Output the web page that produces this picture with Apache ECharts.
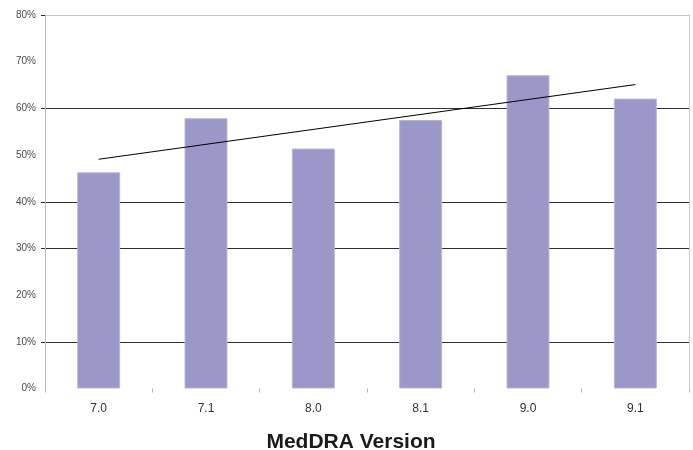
<!DOCTYPE html>
<html>
<head>
<meta charset="utf-8">
<script src="https://cdn.jsdelivr.net/npm/echarts@6/dist/echarts.min.js"></script>
<style>
  html, body { margin: 0; padding: 0; background: #ffffff; }
  #chart { width: 693px; height: 450px; }
</style>
</head>
<body>
<div id="chart"></div>
<script>
// MedDRA versions on the x axis
const versions = ['7.0', '7.1', '8.0', '8.1', '9.0', '9.1'];
// Share per version, in percent
const shares = [46.3, 57.9, 51.4, 57.5, 67.1, 62.1];
// Linear trend line: only its two end points are given, the line joins them
const trend = [49.1, null, null, null, null, 65.1];
// Y axis range and step, in percent
const yMin = 0;
const yMax = 80;
const yStep = 10;
// Values where a tick and gridline are drawn
const markedTicks = [10, 30, 40, 60, 80];

// One colour per gridline: dark inside the plot, light grey along the top edge
const gridColours = markedTicks.map(v => (v === yMax ? '#c9c5c5' : '#2e2e2e'));

const chart = echarts.init(document.getElementById('chart'), null, { renderer: 'canvas' });

chart.setOption({
  backgroundColor: '#ffffff',
  animation: false,
  grid: {
    left: 45, right: 4, top: 15, bottom: 61.5,
    containLabel: false,
    outerBoundsMode: 'none'
  },
  xAxis: {
    type: 'category',
    data: versions,
    axisLine: { show: false },
    axisTick: { show: true, length: 4, lineStyle: { color: '#b8b4b4', width: 1 } },
    axisLabel: {
      margin: 14,
      color: '#333333',
      fontFamily: 'Liberation Sans, Arial, sans-serif',
      fontSize: 12
    },
    name: 'MedDRA Version',
    nameLocation: 'middle',
    nameGap: 43,
    nameTextStyle: {
      color: '#1a1a1a',
      fontFamily: 'Liberation Sans, Arial, sans-serif',
      fontSize: 21,
      fontWeight: 'bold',
      padding: [0, 32, 0, 0]
    }
  },
  yAxis: [
    {
      type: 'value',
      min: yMin,
      max: yMax,
      interval: yStep,
      axisLine: { show: true, lineStyle: { color: '#bcb8b8', width: 1 } },
      axisTick: {
        show: true,
        inside: false,
        length: 4,
        customValues: markedTicks,
        lineStyle: { color: '#2e2e2e', width: 1 }
      },
      axisLabel: {
        margin: 9,
        color: '#4a4a4a',
        fontFamily: 'Liberation Sans, Arial, sans-serif',
        fontSize: 10,
        formatter: '{value}%'
      },
      splitLine: { show: true, lineStyle: { color: gridColours, width: 1 } }
    },
    {
      type: 'value',
      position: 'right',
      min: yMin,
      max: yMax,
      interval: yStep,
      axisLine: { show: true, lineStyle: { color: '#d0cccc', width: 1 } },
      axisTick: { show: false },
      axisLabel: { show: false },
      splitLine: { show: false }
    }
  ],
  series: [
    {
      type: 'bar',
      data: shares,
      barWidth: '40%',
      itemStyle: { color: '#9b97c8', borderColor: '#b9b5cf', borderWidth: 1 },
      silent: true
    },
    {
      type: 'line',
      data: trend,
      connectNulls: true,
      showSymbol: false,
      symbol: 'none',
      lineStyle: { color: '#000000', width: 1 },
      z: 5,
      silent: true
    }
  ]
});
</script>
</body>
</html>
